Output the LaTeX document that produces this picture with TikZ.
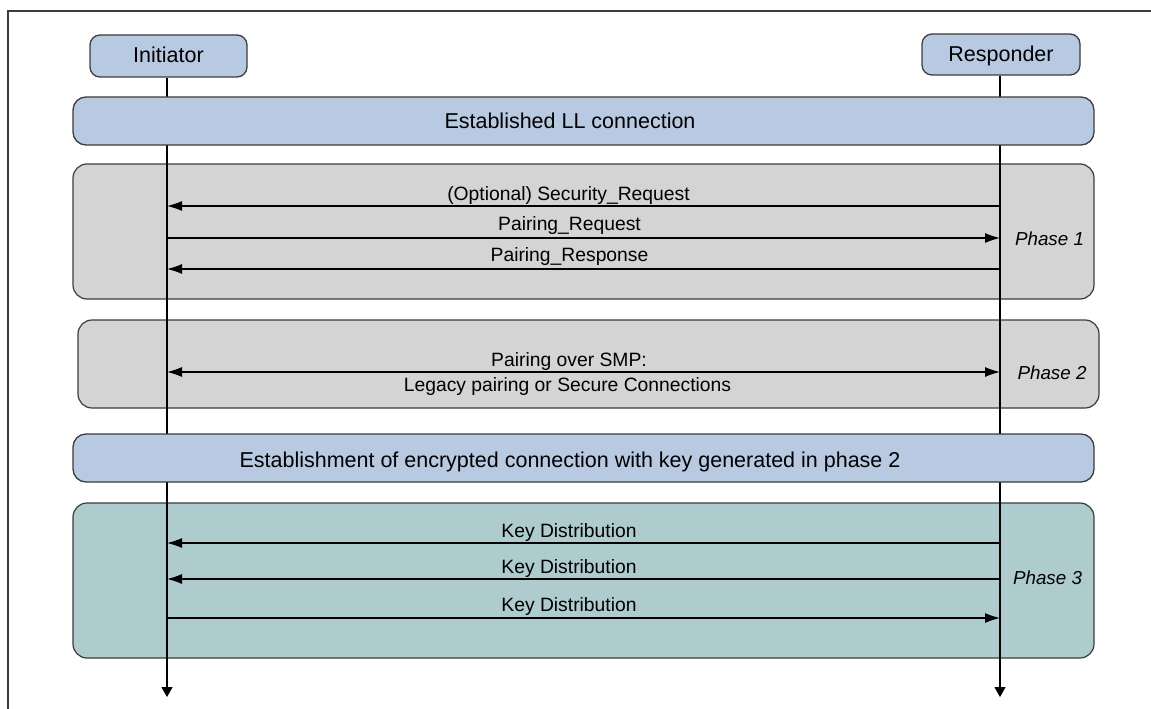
\documentclass[tikz,border=0pt]{standalone}
\usepackage{fontspec}
\setmainfont{Liberation Sans}
\usetikzlibrary{arrows.meta}
\definecolor{barblue}{RGB}{184,202,226}
\definecolor{phgray}{RGB}{212,212,212}
\definecolor{phteal}{RGB}{174,203,205}
\definecolor{edge}{RGB}{60,60,60}
\begin{document}
\begin{tikzpicture}[x=1pt,y=-1pt,
  hdr/.style={draw=edge,line width=1.3pt,fill=barblue,rounded corners=10pt,inner sep=0pt},
  bar/.style={draw=edge,line width=1.3pt,fill=barblue,rounded corners=13pt,inner sep=0pt},
  phbox/.style={draw=edge,line width=1.2pt,rounded corners=14pt,inner sep=0pt},
  big/.style={font=\fontsize{21.5}{24}\selectfont,inner sep=0pt,anchor=base},
  lbl/.style={font=\fontsize{19.3}{22}\selectfont,inner sep=0pt,anchor=base},
  ph/.style={font=\fontsize{18.8}{22}\selectfont\itshape,inner sep=0pt,anchor=base},
  msg/.style={line width=1.2pt,-{Latex[length=15pt,width=10pt]}},
  msg2/.style={line width=1.2pt,{Latex[length=15pt,width=10pt]}-{Latex[length=15pt,width=10pt]}},
  life/.style={line width=1.1pt,-{Triangle[length=10pt,width=11pt]}}
]
\useasboundingbox (0,0) rectangle (1151,709);
\fill[white] (0,0) rectangle (1151,709);
% frame
\draw[line width=1.2pt,edge] (8,709) -- (8,11) -- (1151,11);

% phase boxes
\node[phbox,fill=phgray,minimum width=1021pt,minimum height=135pt] (p1) at (583.5,231.5) {};
\node[phbox,fill=phgray,minimum width=1021pt,minimum height=88pt] (p2) at (588.5,364) {};
\node[phbox,fill=phteal,minimum width=1021pt,minimum height=155pt] (p3) at (583.5,580.5) {};

% header boxes
\node[hdr,minimum width=157pt,minimum height=42pt] (ini) at (168.5,56) {};
\node[hdr,minimum width=158pt,minimum height=41pt] (res) at (1001,54.5) {};
\node[big] (initxt) at (168.5,62.7) {Initiator};
\node[big] (restxt) at (1001,61.7) {Responder};

% lifelines
\coordinate (iend) at (167,697);
\coordinate (rend) at (1000,697);
\draw[life] (ini.south -| iend) -- (iend);
\draw[life] (res.south -| rend) -- (rend);

% bars
\node[bar,minimum width=1021pt,minimum height=48pt] (ll) at (583.5,121) {};
\node[big] (lltxt) at (570,128) {Established LL connection};
\node[bar,minimum width=1021pt,minimum height=48pt] (enc) at (583.5,458) {};
\node[big] (enctxt) at (570,467) {Establishment of encrypted connection with key generated in phase 2};

% lifeline anchor coordinates
\coordinate (I1) at (167,206); \coordinate (R1) at (1000,206);
\coordinate (I2) at (167,238); \coordinate (R2) at (1000,238);
\coordinate (I3) at (167,269); \coordinate (R3) at (1000,269);
\coordinate (I4) at (167,372); \coordinate (R4) at (1000,372);
\coordinate (I5) at (167,543); \coordinate (R5) at (1000,543);
\coordinate (I6) at (167,579); \coordinate (R6) at (1000,579);
\coordinate (I7) at (167,618); \coordinate (R7) at (1000,618);

% phase 1
\draw[msg] (R1) -- (I1);
\node[lbl] (m1) at (568.5,200.5) {(Optional) Security\_Request};
\draw[msg] (I2) -- (R2);
\node[lbl] (m2) at (569.5,230.5) {Pairing\_Request};
\draw[msg] (R3) -- (I3);
\node[lbl] (m3) at (569.5,261.5) {Pairing\_Response};
\node[ph] (ph1) at (1049.5,245) {Phase 1};

% phase 2
\draw[msg2] (I4) -- (R4);
\node[lbl] (m4) at (569,366) {Pairing over SMP:};
\node[lbl] (m5) at (567.5,391) {Legacy pairing or Secure Connections};
\node[ph] (ph2) at (1052,379) {Phase 2};

% phase 3
\draw[msg] (R5) -- (I5);
\node[lbl] (m6) at (569,537.5) {Key Distribution};
\draw[msg] (R6) -- (I6);
\node[lbl] (m7) at (569,573) {Key Distribution};
\draw[msg] (I7) -- (R7);
\node[lbl] (m8) at (569,611.5) {Key Distribution};
\node[ph] (ph3) at (1047.5,584) {Phase 3};
\end{tikzpicture}
\end{document}
